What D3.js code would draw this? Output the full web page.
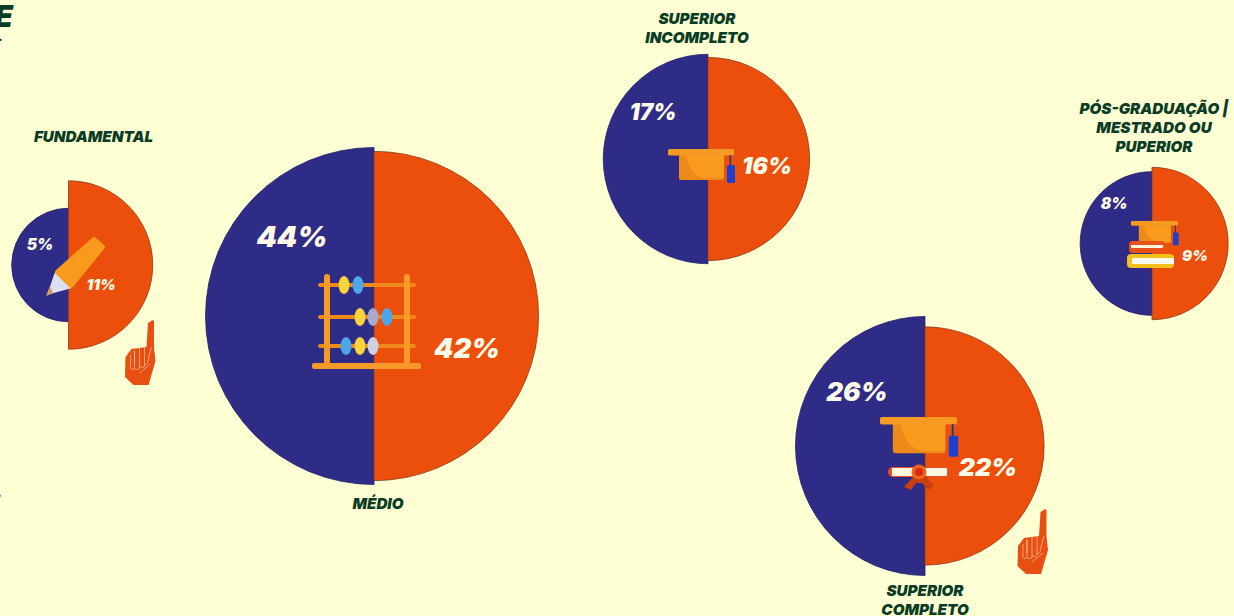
<!DOCTYPE html>
<html lang="pt-BR">
<head>
<meta charset="utf-8">
<style>
  html, body { margin: 0; padding: 0; background: #FFFFD4; overflow: hidden; }
  svg { display: block; }
  text { font-family: Inter, "Open Sans", sans-serif; font-style: italic; }
</style>
</head>
<body>
<svg id="chart" width="1234" height="616"></svg>
<script src="https://cdn.jsdelivr.net/npm/d3@7"></script>
<script>
// Escolaridade: each level is a pair of half discs whose area encodes the share.
const levels = ["FUNDAMENTAL", "MÉDIO", "SUPERIOR INCOMPLETO", "SUPERIOR COMPLETO", "PÓS-GRADUAÇÃO"];
const leftShares = [5, 44, 17, 26, 8];
const rightShares = [11, 42, 16, 22, 9];
const levelLabelLines = [
  ["FUNDAMENTAL"],
  ["MÉDIO"],
  ["SUPERIOR", "INCOMPLETO"],
  ["SUPERIOR", "COMPLETO"],
  ["PÓS-GRADUAÇÃO |", "MESTRADO OU", "PUPERIOR"]
];

// Page layout, kept apart from the values.
const centres = [[68.5, 265], [374, 316], [708, 159], [925, 446], [1152, 243.5]];
const levelLabelAnchors = [[93.5, 136], [378, 503], [697, 18], [925, 590], [1154, 108]];
const leftLabelSpots = [[40, 244, 15.5], [292, 236, 29], [653, 111, 22.5], [857, 391, 26], [1114, 203, 15.5]];
const rightLabelSpots = [[101, 284, 15], [467, 348, 27.5], [767, 166, 23], [988, 467, 25], [1195, 255, 15]];

const NAVY = "#2E2C87", ORANGE = "#EC4F0C", INK = "#0B3D26", CREAM = "#FFFBE8";
const AMBER_DARK = "#EE8A1A";

const svg = d3.select("#chart");
const radius = d3.scaleSqrt().domain([0, 44]).range([0, 168.5]);
const halfDisc = d3.arc().innerRadius(0);

const discs = svg.append("g").selectAll("g")
  .data(levels.map((level, i) => ({ level, left: leftShares[i], right: rightShares[i], c: centres[i] })))
  .join("g")
  .attr("transform", d => `translate(${d.c[0]},${d.c[1]})`);

discs.append("path")
  .attr("d", d => halfDisc({ outerRadius: radius(d.left), startAngle: Math.PI, endAngle: 2 * Math.PI }))
  .attr("fill", NAVY).attr("stroke", "#23216b").attr("stroke-width", 0.8);
discs.append("path")
  .attr("d", d => halfDisc({ outerRadius: radius(d.right), startAngle: 0, endAngle: Math.PI }))
  .attr("fill", ORANGE).attr("stroke", "#8a3a1c").attr("stroke-width", 0.8);

// Mortarboard, drawn on a 66-wide grid with the brim's left end at the origin.
function cap(x, y, k) {
  const g = svg.append("g").attr("transform", `translate(${x},${y}) scale(${k})`);
  g.append("rect").attr("x", 11).attr("y", 5).attr("width", 45).attr("height", 26).attr("rx", 2).attr("fill", AMBER_DARK);
  g.append("path").attr("d", "M18,6H56V29H36C26,27 20,18 18,6Z").attr("fill", "#FB9B1E");
  g.append("rect").attr("width", 66).attr("height", 6.5).attr("rx", 1.5).attr("fill", "#F59A22");
  g.append("rect").attr("x", 61.5).attr("y", 6).attr("width", 1.6).attr("height", 11).attr("fill", "#1f3d8c");
  g.append("rect").attr("x", 59).attr("y", 16).attr("width", 8).attr("height", 18).attr("rx", 1.5).attr("fill", "#1D3FD0");
}

// Pointing hand used as a small decoration beside two of the discs.
function hand(x, y) {
  const g = svg.append("g").attr("transform", `translate(${x},${y})`);
  g.append("path")
    .attr("d", "M23.5,3 L28,0 L29.5,1 L29.5,27 L31,41 L24,65 L9,65 L0.5,57 L1,37 L7,29 L22,27 Z")
    .attr("fill", "#E94E12");
  g.append("path")
    .attr("d", "M6,35V48C6,50 10,50 10,48V31 M10,44V30 M10,48C10,50 15,50 15,48V28 M15,46C15,48 20,48 20,46V27 M20,44C22,46 24,42 24,38L27,27 M15,53L26,44")
    .attr("fill", "none").attr("stroke", "#F2C7A8").attr("stroke-width", 0.7);
}

// Pencil on the Fundamental disc.
const pencil = svg.append("g");
pencil.append("path").attr("d", "M55,272L72,288L52,293.5L47,295Z").attr("fill", "#DCE0F5");
pencil.append("path").attr("d", "M50,286L53,293L46,296Z").attr("fill", "#D59A5C");
pencil.append("path").attr("d", "M92,238Q94,236 96,238L104,245Q106,247 104,249L73,287Q71,289 69,287L56,274Q54,272 56,270Z").attr("fill", "#F99A1C");
hand(124.5, 320);

// Abacus on the Médio disc.
const abacusRows = [285, 317, 346];
const abacusBeads = [
  [344, 285, "#F7D33C"], [358, 285, "#4DA6EC"],
  [360, 317, "#F7D33C"], [373, 317, "#A9A9C9"], [387, 317, "#4DA6EC"],
  [346, 346, "#4DA6EC"], [360, 346, "#F7D33C"], [373, 346, "#CFCFDF"]
];
const abacus = svg.append("g");
abacus.selectAll(".rod").data(abacusRows).join("rect")
  .attr("x", 318).attr("y", d => d - 2).attr("width", 98).attr("height", 4).attr("rx", 2).attr("fill", AMBER_DARK);
abacus.selectAll(".post").data([327, 407]).join("rect")
  .attr("x", d => d - 3).attr("y", 274).attr("width", 6).attr("height", 92).attr("rx", 3).attr("fill", "#F79A2A");
abacus.append("rect").attr("x", 312).attr("y", 363).attr("width", 109).attr("height", 6).attr("rx", 2).attr("fill", "#F79A2A");
abacus.selectAll("ellipse").data(abacusBeads).join("ellipse")
  .attr("cx", d => d[0]).attr("cy", d => d[1]).attr("rx", 5.5).attr("ry", 9).attr("fill", d => d[2]);

cap(668, 149, 1);
cap(880, 417, 77 / 66);
hand(1017, 509);

// Diploma with its seal.
const diploma = svg.append("g");
diploma.append("rect").attr("x", 888).attr("y", 467).attr("width", 62).attr("height", 10).attr("rx", 5).attr("fill", "#E8502A");
diploma.append("rect").attr("x", 892).attr("y", 468).attr("width", 55).attr("height", 8).attr("fill", "#FBF6DF");
diploma.append("path").attr("d", "M914,476L904,487L911,490L916,483L922,483L928,490L934,486L925,475Z").attr("fill", "#C93E10");
diploma.append("circle").attr("cx", 919).attr("cy", 472).attr("r", 7.5).attr("fill", "#F0641A");
diploma.append("circle").attr("cx", 919).attr("cy", 472).attr("r", 4).attr("fill", "#D42A12");

// Cap and stacked books on the Pós-graduação disc.
cap(1131, 221, 47 / 66);
const books = svg.append("g");
books.append("rect").attr("x", 1129).attr("y", 241).attr("width", 36).attr("height", 12).attr("rx", 4).attr("fill", "#E9501C");
books.append("rect").attr("x", 1131).attr("y", 245).attr("width", 32).attr("height", 3).attr("fill", "#FFF3DC");
books.append("rect").attr("x", 1127).attr("y", 254).attr("width", 47).attr("height", 14).attr("rx", 4).attr("fill", "#F2C11E");
books.append("rect").attr("x", 1132).attr("y", 258).attr("width", 42).attr("height", 6).attr("fill", "#FFFBEF");

// Level names.
const names = svg.append("g").attr("fill", INK).attr("font-size", 15.2).attr("font-weight", 900).attr("text-anchor", "middle");
levelLabelLines.forEach((lines, i) => {
  lines.forEach((line, j) => {
    names.append("text")
      .attr("x", levelLabelAnchors[i][0])
      .attr("y", levelLabelAnchors[i][1] + j * 19)
      .attr("dominant-baseline", "central")
      .text(line);
  });
});

// Share labels.
function shareLabels(values, spots) {
  svg.append("g").selectAll("text").data(values).join("text")
    .attr("x", (d, i) => spots[i][0])
    .attr("y", (d, i) => spots[i][1])
    .attr("font-size", (d, i) => spots[i][2])
    .attr("font-weight", 900)
    .attr("fill", CREAM)
    .attr("text-anchor", "middle")
    .attr("dominant-baseline", "central")
    .text(d => d + "%");
}
shareLabels(leftShares, leftLabelSpots);
shareLabels(rightShares, rightLabelSpots);

// Clipped end of the heading at the page's left edge.
svg.append("text").attr("x", 13).attr("y", 27).attr("text-anchor", "end")
  .attr("font-size", 30).attr("font-weight", 900).attr("fill", INK).text("E");
svg.append("text").attr("x", 3).attr("y", 41).attr("text-anchor", "end")
  .attr("font-size", 12).attr("font-weight", 900).attr("fill", INK).text(".");
svg.append("text").attr("x", 2).attr("y", 497).attr("text-anchor", "end")
  .attr("font-size", 12).attr("font-weight", 900).attr("fill", INK).text(".");
</script>
</body>
</html>
